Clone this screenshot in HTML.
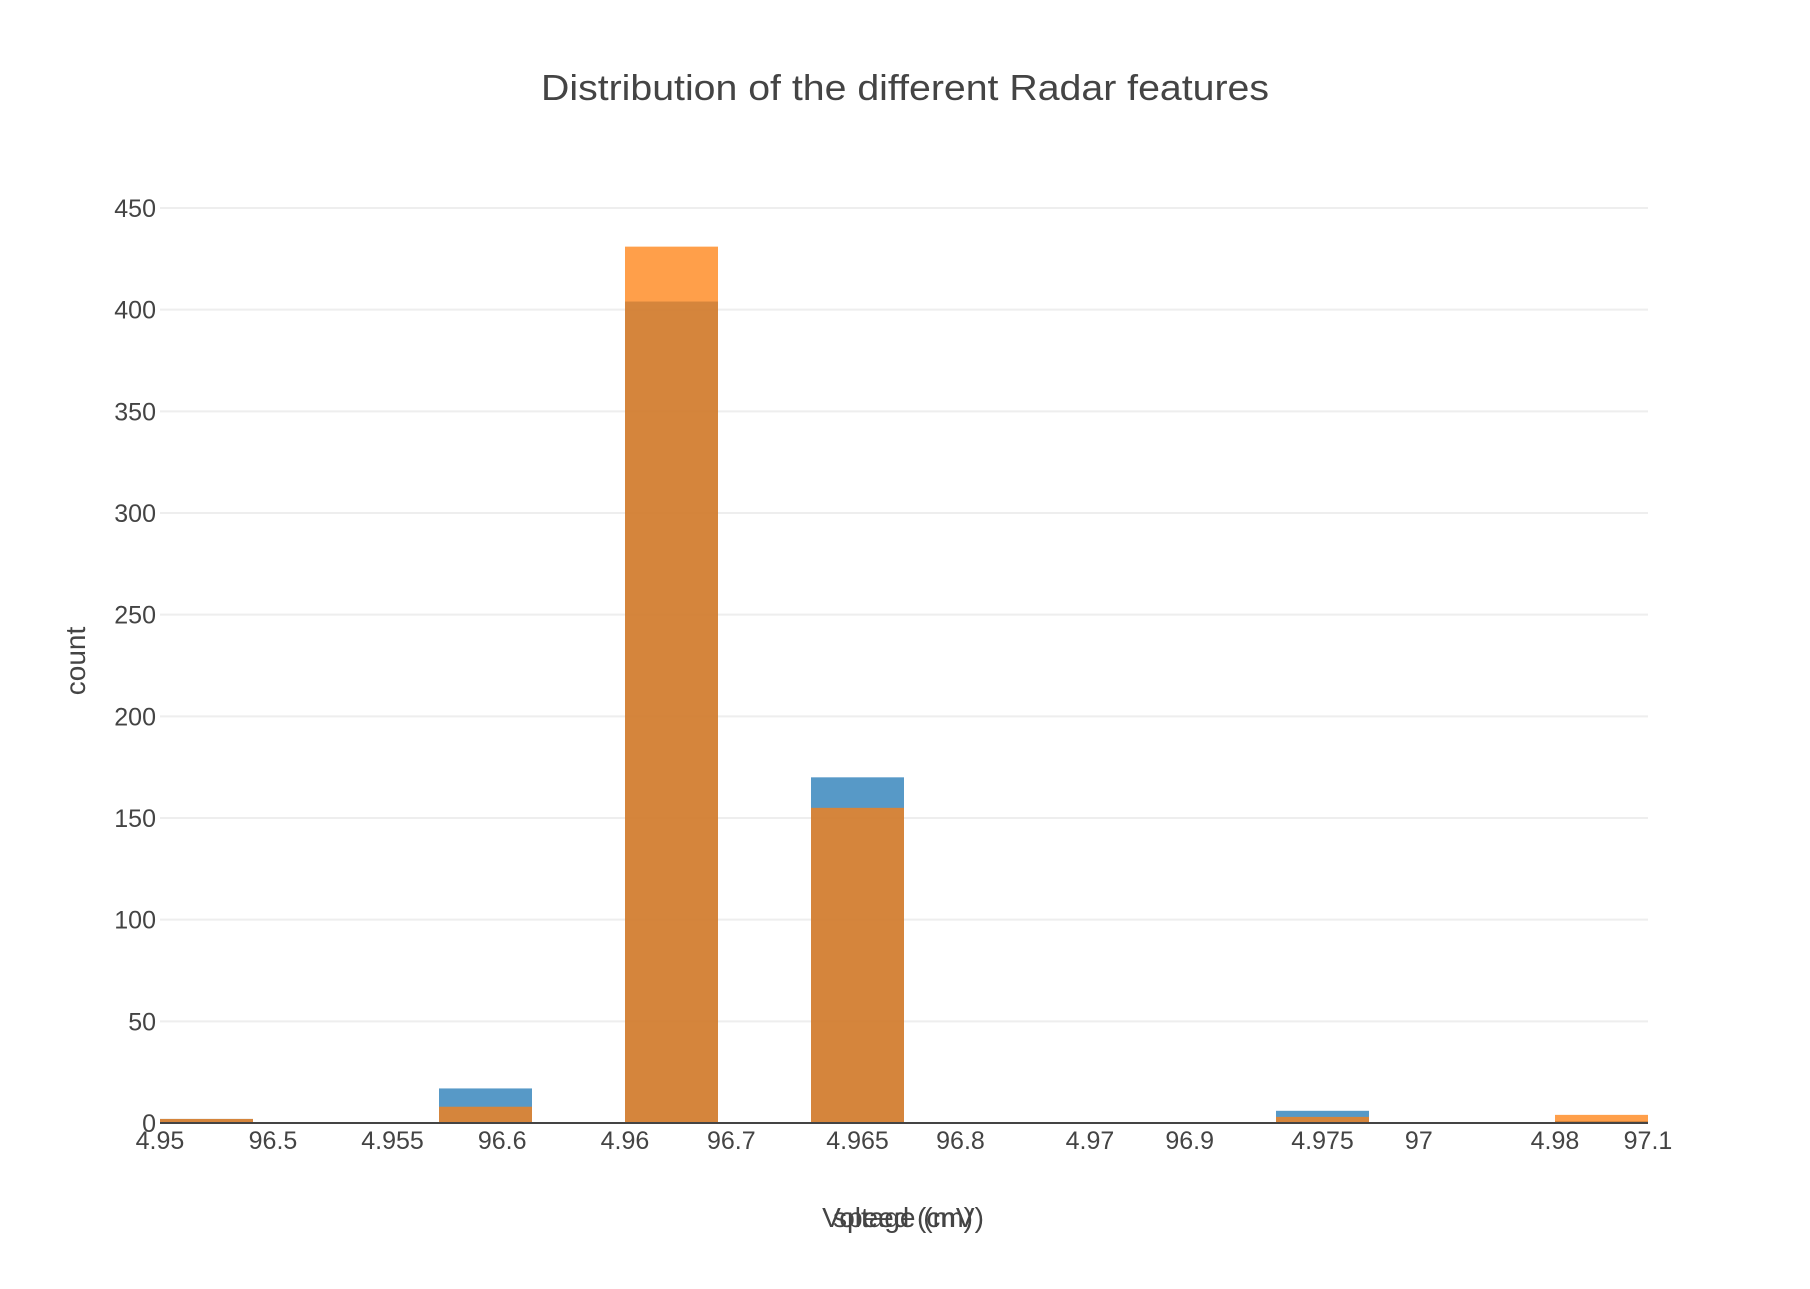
<!DOCTYPE html>
<html><head><meta charset="utf-8"><style>
body{margin:0;background:#fff;}
svg text{font-family:"Liberation Sans","DejaVu Sans",sans-serif;fill:#444;}
</style></head><body>
<svg id="chart" width="1810" height="1284" xmlns="http://www.w3.org/2000/svg">
<text x="905" y="100" font-size="36" text-anchor="middle" textLength="728" lengthAdjust="spacingAndGlyphs">Distribution of the different Radar features</text>
<g id="grid"></g>
<g id="bars"></g>
<g id="xticks"></g>
<text x="903" y="1227" font-size="28" text-anchor="middle">Voltage (mV)</text>
<text x="903" y="1227" font-size="28" text-anchor="middle">speed (cm)</text>
<text transform="translate(85,661) rotate(-90)" font-size="28" text-anchor="middle">count</text>
</svg>
<script>
const binStarts = [4.950,4.952,4.954,4.956,4.958,4.960,4.962,4.964,4.966,4.968,4.970,4.972,4.974,4.976,4.978,4.980];
const blueCounts = [2,0,0,17,0,404,0,170,0,0,0,0,6,0,0,1];
const orangeCounts = [2,0,0,8,0,431,0,155,0,0,0,0,3,0,0,4];
const yTicks = [0,50,100,150,200,250,300,350,400,450];
const xTicks1 = [4.95,4.955,4.96,4.965,4.97,4.975,4.98];
const xTickLabels1 = ["4.95","4.955","4.96","4.965","4.97","4.975","4.98"];
const xTicks2 = [96.5,96.6,96.7,96.8,96.9,97,97.1];
const xTickLabels2 = ["96.5","96.6","96.7","96.8","96.9","97","97.1"];
const binWidth = 0.002;

const L=160,R=1648,Y0=1123,Y450=208;
const x1=v=>L+(v-4.95)/(0.032)*(R-L);
const x2=v=>L+(v-96.4507)/(97.1-96.4507)*(R-L);
const y=v=>Y0-(v/450)*(Y0-Y450);
const NS="http://www.w3.org/2000/svg";
function mk(tag,attrs,parent,text){const e=document.createElementNS(NS,tag);for(const k in attrs)e.setAttribute(k,attrs[k]);if(text!==undefined)e.textContent=text;parent.appendChild(e);return e;}
const grid=document.getElementById('grid'),bars=document.getElementById('bars'),xt=document.getElementById('xticks');
yTicks.forEach(t=>{
  if(t>0){const g=mk('line',{x1:L,x2:R,y1:y(t),y2:y(t),stroke:'#eee','stroke-width':2},grid);
  
  }
  const tx=mk('text',{x:L-4,y:y(t)+9,'font-size':25,'text-anchor':'end'},grid,String(t));
  
  
});
binStarts.forEach((b,i)=>{
  if(blueCounts[i]>0){const r=mk('rect',{x:x1(b),width:x1(b+binWidth)-x1(b),y:y(blueCounts[i]),height:Y0-y(blueCounts[i]),fill:'#1f77b4','fill-opacity':0.75},bars);
  
  }
});
binStarts.forEach((b,i)=>{
  if(orangeCounts[i]>0){const r=mk('rect',{x:x1(b),width:x1(b+binWidth)-x1(b),y:y(orangeCounts[i]),height:Y0-y(orangeCounts[i]),fill:'#ff7f0e','fill-opacity':0.75},bars);
  
  }
});
const ax=mk('line',{x1:L,x2:R,y1:Y0,y2:Y0,stroke:'#444','stroke-width':2},bars);


xTicks1.forEach((t,i)=>{const e=mk('text',{x:x1(t),y:1149,'font-size':25,'text-anchor':'middle'},xt,xTickLabels1[i]);
  
  });
xTicks2.forEach((t,i)=>{const e=mk('text',{x:x2(t),y:1149,'font-size':25,'text-anchor':'middle'},xt,xTickLabels2[i]);
  
  });
</script>
</body></html>
